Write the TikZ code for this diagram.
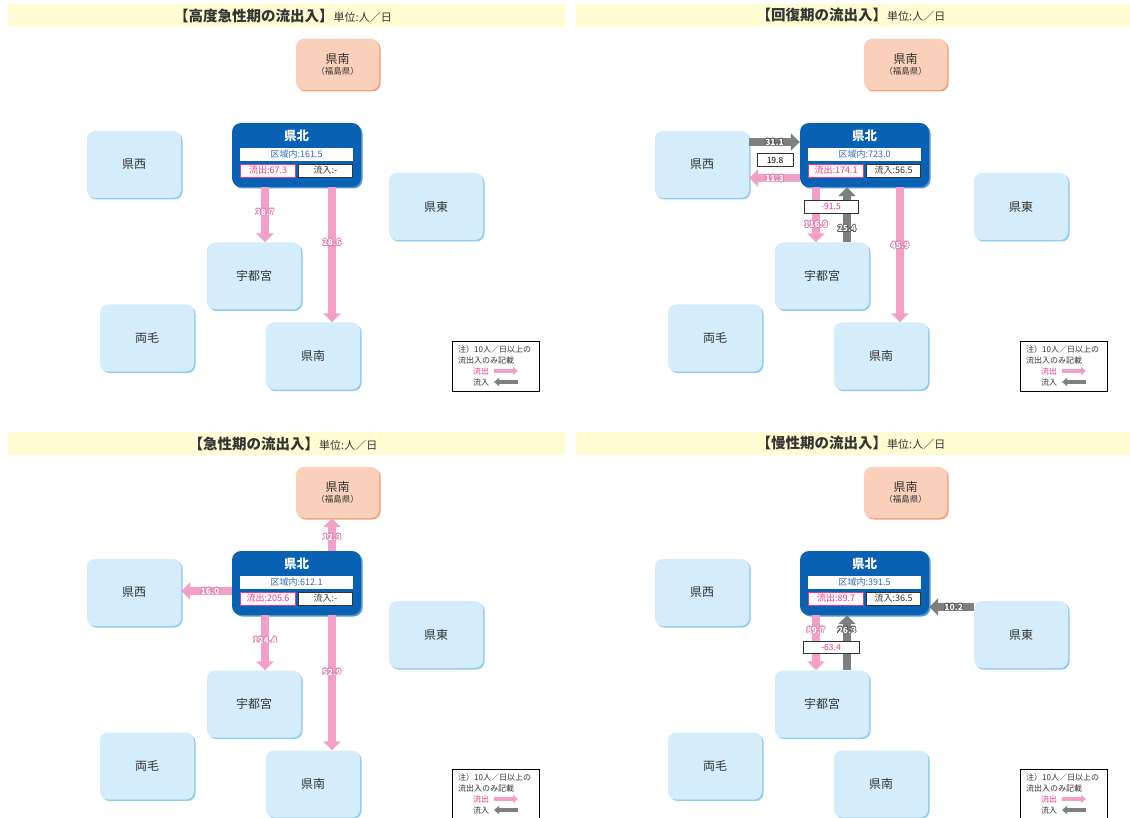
\documentclass[tikz,border=0pt]{standalone}
\usepackage{fontspec}
\setmainfont{Noto Sans CJK JP}
\usetikzlibrary{arrows.meta,shadows}
\definecolor{bandy}{HTML}{FFFBD2}
\definecolor{lblue}{HTML}{D5ECFA}
\definecolor{lblsh}{HTML}{8FCDF2}
\definecolor{peach}{HTML}{FAD0BA}
\definecolor{peachsh}{HTML}{F0A27C}
\definecolor{kbblue}{HTML}{0861B3}
\definecolor{kbsh}{HTML}{5A95D5}
\definecolor{pinkarr}{HTML}{F2A0C8}
\definecolor{pinkol}{HTML}{E47CB0}
\definecolor{grayarr}{HTML}{7F7F7F}
\definecolor{grayol}{HTML}{555555}
\definecolor{pinktxt}{HTML}{E8388A}
\definecolor{bluetxt}{HTML}{2F6DB8}
\definecolor{dtxt}{HTML}{333333}
\newcommand\olone[4]{\makebox[0pt][l]{\color{#1}\hspace*{#2}\raisebox{#3}{#4}}}
\newcommand\outl[2]{%
  \olone{#1}{0.8pt}{0pt}{#2}\olone{#1}{-0.8pt}{0pt}{#2}\olone{#1}{0pt}{0.8pt}{#2}\olone{#1}{0pt}{-0.8pt}{#2}%
  \olone{#1}{0.6pt}{0.6pt}{#2}\olone{#1}{-0.6pt}{0.6pt}{#2}\olone{#1}{0.6pt}{-0.6pt}{#2}\olone{#1}{-0.6pt}{-0.6pt}{#2}%
  {\color{white}#2}}
\tikzset{
  region/.style={rounded corners=8pt, fill=lblue, minimum width=94pt, minimum height=67pt,
    inner sep=0pt, font=\fontsize{12}{14}\selectfont, text=dtxt,
    drop shadow={shadow xshift=1.5pt, shadow yshift=-1.5pt, fill=lblsh, opacity=1}},
  pbox/.style={rounded corners=8pt, fill=peach, minimum width=83pt, minimum height=51pt,
    inner sep=0pt, align=center, font=\fontsize{12}{14}\selectfont, text=dtxt,
    drop shadow={shadow xshift=1.5pt, shadow yshift=-1.5pt, fill=peachsh, opacity=1}},
  kbbox/.style={rounded corners=9pt, fill=kbblue, minimum width=129pt, minimum height=64pt,
    inner sep=0pt,
    drop shadow={shadow xshift=1.5pt, shadow yshift=-1.5pt, fill=kbsh, opacity=1}},
  kbtitle/.style={text=white, font=\bfseries\fontsize{12.5}{14}\selectfont, inner sep=0pt},
  inbox/.style={fill=white, minimum height=13pt, inner sep=0pt, font=\fontsize{9}{10}\selectfont},
  numbox/.style={fill=white, draw=dtxt, line width=0.8pt, minimum height=13pt, inner sep=0pt,
    font=\fontsize{8.5}{9}\selectfont},
  ttl/.style={inner sep=0pt, text=dtxt},
  lbl/.style={font=\bfseries\fontsize{8.5}{9}\selectfont, inner sep=0pt},
  pa/.style={draw=pinkarr, line width=8.5pt, -{Triangle[width=17pt,length=9pt]}},
  ga/.style={draw=grayarr, line width=8.5pt, -{Triangle[width=17pt,length=9pt]}},
  lpa/.style={draw=pinkarr, line width=4pt, -{Triangle[width=8pt,length=5pt]}},
  lga/.style={draw=grayarr, line width=4pt, -{Triangle[width=8pt,length=5pt]}},
  legbox/.style={draw=black, line width=0.9pt, fill=white, minimum width=87pt, minimum height=50pt, inner sep=0pt},
  legtxt/.style={inner sep=0pt, font=\fontsize{8}{9}\selectfont, text=dtxt}
}
\newcommand\pl[1]{\outl{pinkol}{#1}}
\newcommand\gl[1]{\outl{grayol}{#1}}
\newcommand\basepanel[6]{%
  \fill[bandy] (8,4) rectangle (565,27);
  \node[ttl] (#1ttl) at (283,15.5) {{\bfseries\fontsize{14.5}{16}\selectfont 【#2の流出入】}{\fontsize{11}{12}\selectfont 単位:人／日}};
  \node[pbox] (#1pk) at (337.5,64.5) {県南\\[-3pt]{\fontsize{8.5}{9}\selectfont （福島県）}};
  \node[region] (#1nishi) at (134,164.5) {県西};
  \node[region] (#1higashi) at (#6,206.5) {県東};
  \node[region] (#1ut) at (254,276) {宇都宮};
  \node[region] (#1ryo) at (147,338) {両毛};
  \node[region] (#1kn) at (313,356) {県南};
  \node[kbbox] (#1kb) at (296.5,155) {};
  \node[kbtitle] (#1kbt) at (296.5,136) {県北};
  \node[inbox, minimum width=113pt, text=bluetxt] (#1ik) at (296.5,154.5) {区域内:#3};
  \node[inbox, minimum width=55pt, draw=pinktxt, line width=0.7pt, text=pinktxt] (#1io) at (268,170.5) {流出:#4};
  \node[inbox, minimum width=54pt, draw=dtxt, line width=0.8pt, text=dtxt] (#1ii) at (325.5,170.5) {流入:#5};
  \node[legbox] (#1leg) at (495.5,366) {};
  \node[legtxt, anchor=west] (#1l1) at (458,349) {注）10人／日以上の};
  \node[legtxt, anchor=west] (#1l2) at (458,360) {流出入のみ記載};
  \node[legtxt, text=pinktxt] (#1lo) at (481,371) {流出};
  \node[legtxt] (#1li) at (481,382) {流入};
  \coordinate (#1la) at (494,371);
  \coordinate (#1lb) at (518,371);
  \coordinate (#1lc) at (518,382);
  \coordinate (#1ld) at (494,382);
  \draw[lpa] (#1la) -- (#1lb);
  \draw[lga] (#1lc) -- (#1ld);
}
\begin{document}
\begin{tikzpicture}[x=1pt,y=-1pt]
\useasboundingbox (0,0) rectangle (1130,818);
\fill[white] (0,0) rectangle (1130,818);
% ---------- top left
\begin{scope}
\basepanel{TL}{高度急性期}{161.5}{67.3}{-}{436}
\draw[pa] ([xshift=-31.5pt]TLkb.south) -- node[lbl,pos=.45]{\pl{38.7}} ([xshift=11pt]TLut.north);
\draw[pa] ([xshift=35.5pt]TLkb.south) -- node[lbl,pos=.41]{\pl{28.6}} ([xshift=19pt]TLkn.north);
\end{scope}
% ---------- top right
\begin{scope}[xshift=568pt]
\basepanel{TR}{回復期}{723.0}{174.1}{56.5}{453}
\draw[ga] ([yshift=22.5pt]TRnishi.east) -- node[lbl]{\gl{31.1}} ([yshift=13pt]TRkb.west);
\draw[pa] ([yshift=-23pt]TRkb.west) -- node[lbl]{\pl{11.3}} ([yshift=-13.5pt]TRnishi.east);
\draw[pa] ([xshift=-48.5pt]TRkb.south) -- node[lbl,pos=.67]{\pl{116.9}} ([xshift=-6pt]TRut.north);
\draw[ga] ([xshift=25pt]TRut.north) -- node[lbl,pos=.25]{\gl{25.4}} ([xshift=-17.5pt]TRkb.south);
\draw[pa] ([xshift=35.5pt]TRkb.south) -- node[lbl,pos=.43]{\pl{45.9}} ([xshift=19pt]TRkn.north);
\node[numbox, minimum width=36pt] (TRb1) at (207,160) {19.8};
\node[numbox, minimum width=54pt, text=pinktxt] (TRb2) at (263,206.5) {-91.5};
\end{scope}
% ---------- bottom left
\begin{scope}[yshift=-428pt]
\basepanel{BL}{急性期}{612.1}{205.6}{-}{436}
\draw[pa] ([xshift=35.5pt]BLkb.north) -- node[lbl,pos=.42]{\pl{12.3}} ([xshift=-5.5pt]BLpk.south);
\draw[pa] ([yshift=-8pt]BLkb.west) -- node[lbl,pos=.43]{\pl{16.0}} ([yshift=1.5pt]BLnishi.east);
\draw[pa] ([xshift=-31.5pt]BLkb.south) -- node[lbl,pos=.45]{\pl{124.4}} ([xshift=11pt]BLut.north);
\draw[pa] ([xshift=35.5pt]BLkb.south) -- node[lbl,pos=.42]{\pl{52.9}} ([xshift=19pt]BLkn.north);
\end{scope}
% ---------- bottom right
\begin{scope}[xshift=568pt,yshift=-428pt]
\basepanel{BR}{慢性期}{391.5}{89.7}{36.5}{453}
\draw[pa] ([xshift=-48.5pt]BRkb.south) -- node[lbl,pos=.27]{\pl{89.7}} ([xshift=-6pt]BRut.north);
\draw[ga] ([xshift=25pt]BRut.north) -- node[lbl,pos=.73]{\gl{26.3}} ([xshift=-17.5pt]BRkb.south);
\draw[ga] ([yshift=27.5pt]BRhigashi.west) -- node[lbl,pos=.45]{\gl{10.2}} ([yshift=-24pt]BRkb.east);
\node[numbox, minimum width=56pt, minimum height=12pt, text=pinktxt] (BRb1) at (263,219.5) {-63.4};
\end{scope}
\end{tikzpicture}
\end{document}
